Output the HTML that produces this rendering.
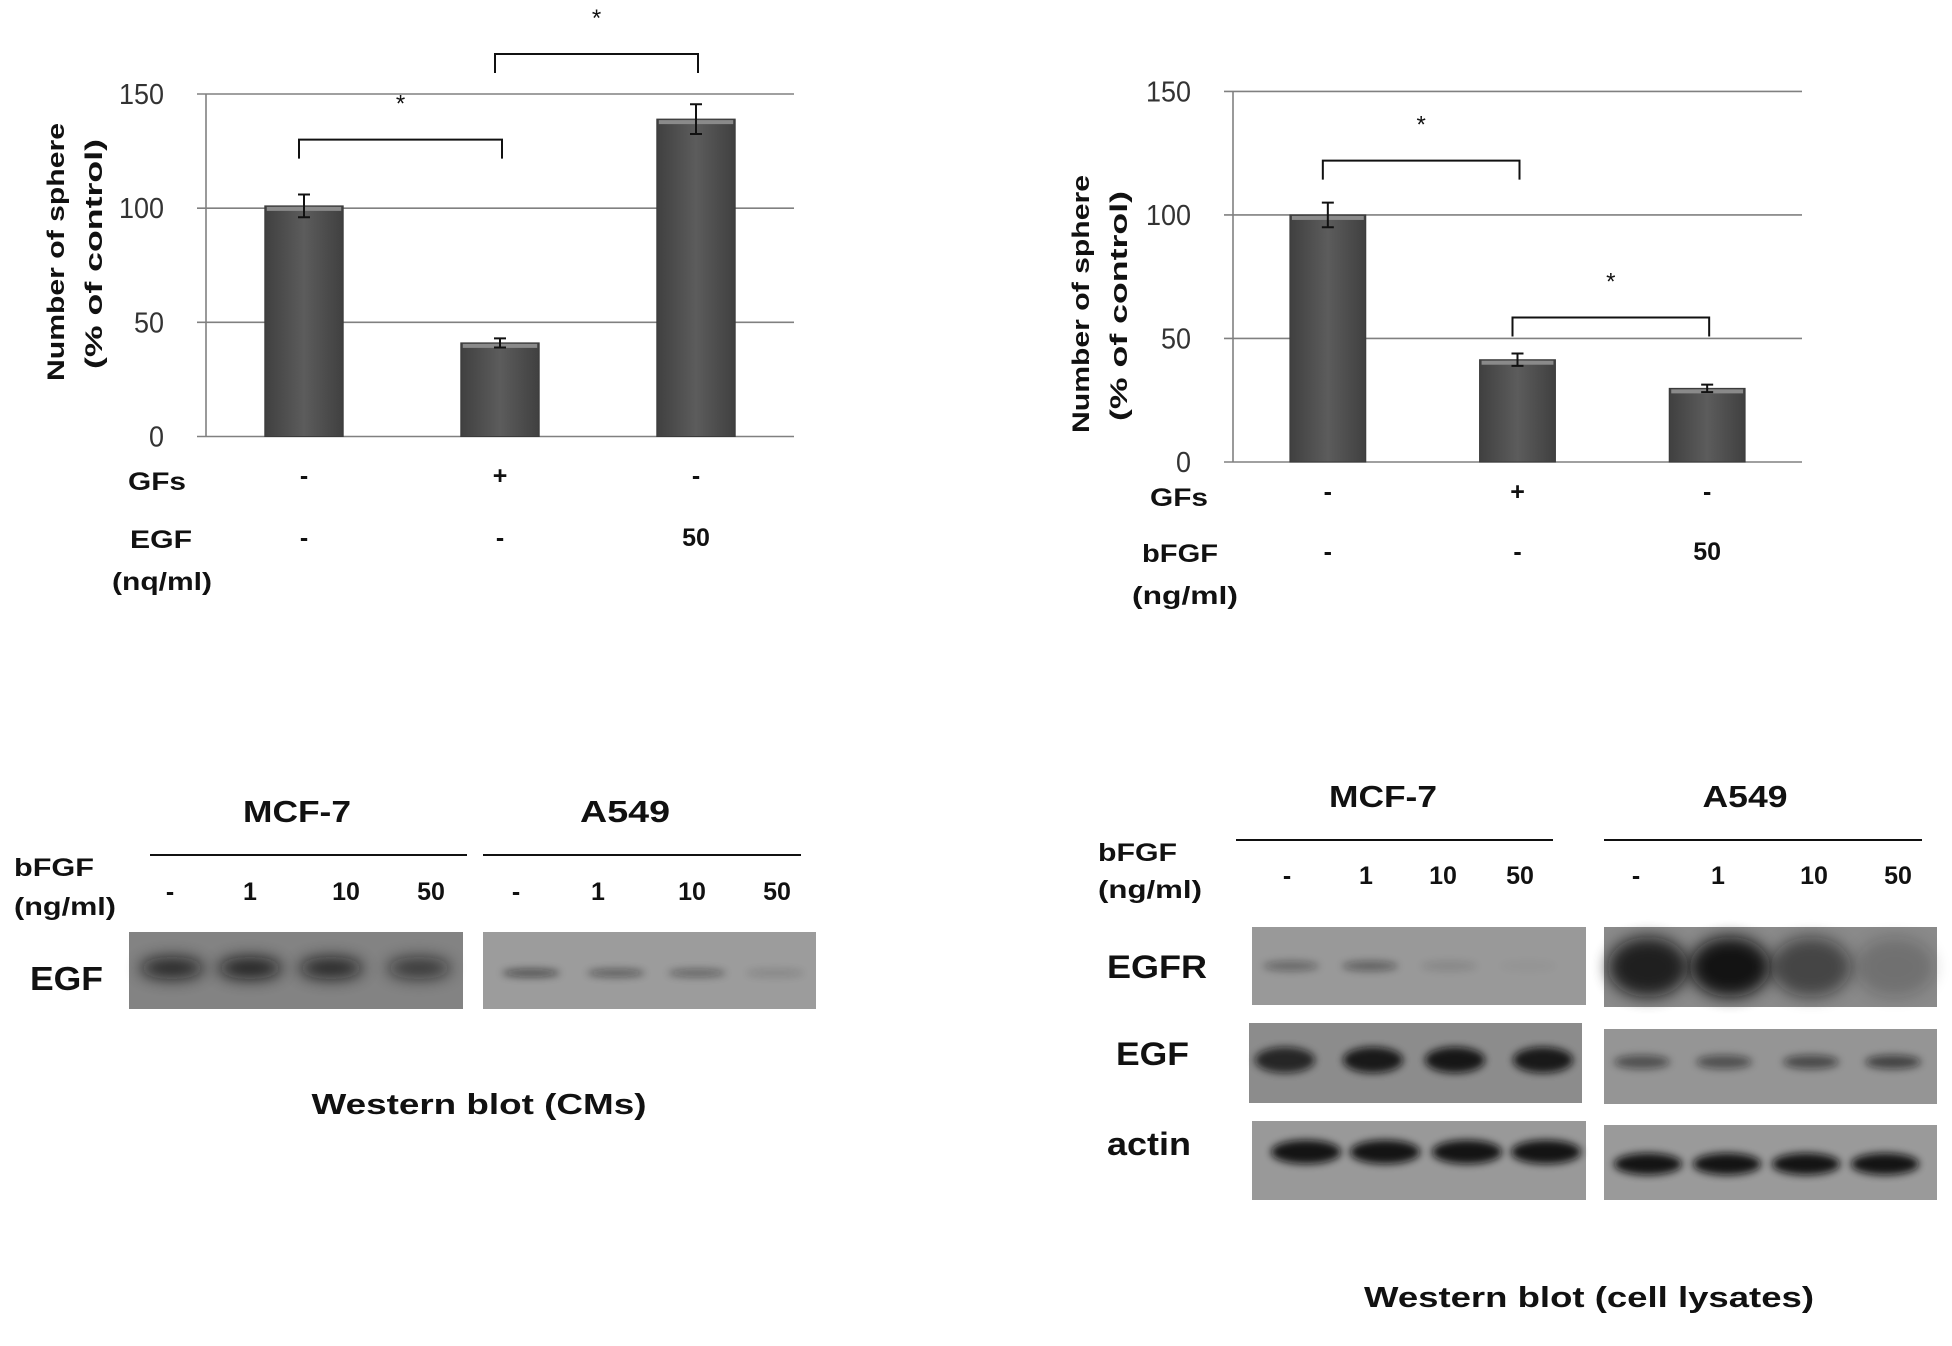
<!DOCTYPE html>
<html><head><meta charset="utf-8"><title>Sphere formation and Western blots</title>
<style>
html,body{margin:0;padding:0;background:#fff;}
svg{display:block;font-family:"Liberation Sans",Arial,sans-serif;}
.tk{font-size:29px;fill:#333;}
.bl{font-weight:bold;fill:#111;}
</style></head>
<body>
<svg id="fig" width="1952" height="1346" viewBox="0 0 1952 1346">
<defs>
<linearGradient id="barg" x1="0" x2="1" y1="0" y2="0">
<stop offset="0" stop-color="#404040"/><stop offset="0.5" stop-color="#5c5c5c"/><stop offset="1" stop-color="#404040"/>
</linearGradient>
<filter id="blur3" x="-50%" y="-100%" width="200%" height="300%"><feGaussianBlur stdDeviation="4"/></filter>
<filter id="blur6" x="-50%" y="-100%" width="200%" height="300%"><feGaussianBlur stdDeviation="8"/></filter>
</defs>
<g id="c1"></g>
<g id="c2"></g>

<g>
<text class="bl" x="297" y="822" font-size="31" text-anchor="middle" textLength="108" lengthAdjust="spacingAndGlyphs">MCF-7</text>
<text class="bl" x="625" y="822" font-size="31" text-anchor="middle" textLength="90" lengthAdjust="spacingAndGlyphs">A549</text>
<line x1="150" y1="855" x2="467" y2="855" stroke="#111" stroke-width="2"/>
<line x1="483" y1="855" x2="801" y2="855" stroke="#111" stroke-width="2"/>
<text class="bl" x="14" y="876" font-size="25" textLength="80" lengthAdjust="spacingAndGlyphs">bFGF</text>
<text class="bl" x="14" y="915" font-size="25" textLength="102" lengthAdjust="spacingAndGlyphs">(ng/ml)</text>
<g class="bl" font-size="25" text-anchor="middle">
<text x="170" y="900">-</text><text x="250" y="900">1</text><text x="346" y="900">10</text><text x="431" y="900">50</text>
<text x="516" y="900">-</text><text x="598" y="900">1</text><text x="692" y="900">10</text><text x="777" y="900">50</text>
</g>
<text class="bl" x="30" y="990" font-size="33" textLength="73" lengthAdjust="spacingAndGlyphs">EGF</text>
<rect x="129" y="932" width="334" height="77" fill="#838383"/>
<rect x="483" y="932" width="333" height="77" fill="#9c9c9c"/>
<g id="cmsBands"></g>
<text class="bl" x="479" y="1114" font-size="29" text-anchor="middle" textLength="335" lengthAdjust="spacingAndGlyphs">Western blot (CMs)</text>
</g>

<g>
<text class="bl" x="1383" y="807" font-size="31" text-anchor="middle" textLength="108" lengthAdjust="spacingAndGlyphs">MCF-7</text>
<text class="bl" x="1745" y="807" font-size="31" text-anchor="middle" textLength="85" lengthAdjust="spacingAndGlyphs">A549</text>
<line x1="1236" y1="840" x2="1553" y2="840" stroke="#111" stroke-width="2"/>
<line x1="1604" y1="840" x2="1922" y2="840" stroke="#111" stroke-width="2"/>
<text class="bl" x="1098" y="861" font-size="25" textLength="79" lengthAdjust="spacingAndGlyphs">bFGF</text>
<text class="bl" x="1098" y="898" font-size="25" textLength="104" lengthAdjust="spacingAndGlyphs">(ng/ml)</text>
<g class="bl" font-size="25" text-anchor="middle">
<text x="1287" y="884">-</text><text x="1366" y="884">1</text><text x="1443" y="884">10</text><text x="1520" y="884">50</text>
<text x="1636" y="884">-</text><text x="1718" y="884">1</text><text x="1814" y="884">10</text><text x="1898" y="884">50</text>
</g>
<text class="bl" x="1107" y="978" font-size="32" textLength="100" lengthAdjust="spacingAndGlyphs">EGFR</text>
<text class="bl" x="1116" y="1065" font-size="32" textLength="73" lengthAdjust="spacingAndGlyphs">EGF</text>
<text class="bl" x="1107" y="1155" font-size="32" textLength="84" lengthAdjust="spacingAndGlyphs">actin</text>
<rect x="1252" y="927" width="334" height="78" fill="#999"/>
<rect x="1604" y="927" width="333" height="80" fill="#8a8a8a"/>
<rect x="1249" y="1023" width="333" height="80" fill="#8c8c8c"/>
<rect x="1604" y="1029" width="333" height="75" fill="#959595"/>
<rect x="1252" y="1121" width="334" height="79" fill="#999"/>
<rect x="1604" y="1125" width="333" height="75" fill="#9a9a9a"/>
<g id="lysBands"></g>
<text class="bl" x="1589" y="1307" font-size="29" text-anchor="middle" textLength="450" lengthAdjust="spacingAndGlyphs">Western blot (cell lysates)</text>
</g>
</svg>
<script>
const categories = ["control", "GFs", "factor 50"];
const gfsRow = ["-", "+", "-"];
const doseRow = ["-", "-", "50"];
const egfValues = [101, 41, 139];
const egfErrors = [5, 2, 6.5];
const bfgfValues = [100, 41.4, 29.8];
const bfgfErrors = [5, 2.5, 1.5];
const yTicks = [0, 50, 100, 150];
const egfBrackets = [[0, 1, 130], [1, 2, 167.5]];
const bfgfBrackets = [[0, 1, 122], [1, 2, 58.5]];
const cmsMcf7 = [0.8, 0.85, 0.8, 0.65];
const cmsA549 = [0.55, 0.45, 0.4, 0.15];
const egfrMcf7 = [0.35, 0.4, 0.12, 0.03];
const egfrA549 = [0.85, 0.95, 0.55, 0.2];
const egfMcf7 = [0.8, 0.9, 0.92, 0.9];
const egfA549 = [0.5, 0.5, 0.55, 0.6];
const actinMcf7 = [0.95, 0.95, 0.95, 0.95];
const actinA549 = [0.95, 0.95, 0.95, 0.95];

const NS = "http://www.w3.org/2000/svg";
function mk(tag, attrs, parent) {
  const e = document.createElementNS(NS, tag);
  for (const k in attrs) e.setAttribute(k, attrs[k]);
  parent.appendChild(e);
  return e;
}

function drawChart(g, cfg, values, errors, brackets, doseLabel, doseLabelCfg) {
  const y = v => cfg.y0 - v / 150 * (cfg.y0 - cfg.y150);
  const bw = (cfg.x1 - cfg.x0) / categories.length;
  const cx = i => cfg.x0 + bw * (i + 0.5);
  yTicks.forEach(t => {
    const ln = mk("line", {x1: cfg.x0 - 9, x2: cfg.x1, y1: y(t), y2: y(t), stroke: "#808080", "stroke-width": 1.6}, g);
    
    
    const s = String(t);
    const tx = mk("text", {x: cfg.x0 - 42, y: y(t) + 10, "text-anchor": "end", class: "tk", textLength: s.length * 15, lengthAdjust: "spacingAndGlyphs"}, g);
    tx.textContent = s;
    
    
  });
  const ax = mk("line", {x1: cfg.x0, x2: cfg.x0, y1: y(150), y2: y(0), stroke: "#808080", "stroke-width": 1.6}, g);
  
  
  values.forEach((v, i) => {
    const w = bw * 0.4;
    const r = mk("rect", {x: cx(i) - w / 2, y: y(v), width: w, height: y(0) - y(v), fill: "url(#barg)", stroke: "#3a3a3a", "stroke-width": 1}, g);
    
    
    const hl = mk("rect", {x: cx(i) - w / 2 + 2, y: y(v) + 1, width: w - 4, height: 4, fill: "#8a8a8a"}, g);
    
    
    const e = errors[i];
    const p = mk("path", {d: `M${cx(i)-6},${y(v+e)}H${cx(i)+6}M${cx(i)},${y(v+e)}V${y(v-e)}M${cx(i)-6},${y(v-e)}H${cx(i)+6}`, stroke: "#111", "stroke-width": 2, fill: "none"}, g);
    
    
    const t1 = mk("text", {x: cx(i), y: cfg.gfY, "text-anchor": "middle", class: "bl", "font-size": 25}, g);
    t1.textContent = gfsRow[i];
    
    
    const t2 = mk("text", {x: cx(i), y: cfg.doseY, "text-anchor": "middle", class: "bl", "font-size": 25}, g);
    t2.textContent = doseRow[i];
    
    
  });
  brackets.forEach((b, k) => {
    const xa = cx(b[0]) - 5, xb = cx(b[1]) + 2, yt = y(b[2]);
    const p = mk("path", {d: `M${xa},${yt+19}V${yt}H${xb}V${yt+19}`, stroke: "#111", "stroke-width": 2, fill: "none"}, g);
    
    
    const s = mk("text", {x: (xa + xb) / 2, y: yt - 28, "text-anchor": "middle", "font-size": 24, fill: "#111"}, g);
    s.textContent = "*";
    
    
  });
  const tt1 = mk("text", {transform: `translate(${cfg.titleX},${cfg.titleCY}) rotate(-90)`, "text-anchor": "middle", class: "bl", "font-size": 24, textLength: cfg.titleLen, lengthAdjust: "spacingAndGlyphs"}, g);
  tt1.textContent = "Number of sphere";
  
  
  const tt2 = mk("text", {transform: `translate(${cfg.titleX + 38},${cfg.titleCY + 2}) rotate(-90)`, "text-anchor": "middle", class: "bl", "font-size": 24, textLength: cfg.titleLen2, lengthAdjust: "spacingAndGlyphs"}, g);
  tt2.textContent = "(% of control)";
  
  
  const gl = mk("text", {x: cfg.gfLX, y: cfg.gfY + 6, class: "bl", "font-size": 25, textLength: 58, lengthAdjust: "spacingAndGlyphs"}, g);
  gl.textContent = "GFs";
  
  
  const dl = mk("text", {x: doseLabelCfg.x, y: cfg.doseY + 2, class: "bl", "font-size": 25, textLength: doseLabelCfg.w, lengthAdjust: "spacingAndGlyphs"}, g);
  dl.textContent = doseLabel;
  
  
  const ul = mk("text", {x: doseLabelCfg.ux, y: cfg.doseY + 44, class: "bl", "font-size": 25, textLength: doseLabelCfg.uw, lengthAdjust: "spacingAndGlyphs"}, g);
  ul.textContent = doseLabelCfg.unit;
  
  
}

drawChart(document.getElementById("c1"),
  {x0: 206, x1: 794, y0: 436.5, y150: 94, gfY: 484, doseY: 546, titleX: 64, titleCY: 252, titleLen: 258, titleLen2: 230, gfLX: 128},
  egfValues, egfErrors, egfBrackets, "EGF", {x: 130, w: 62, ux: 112, uw: 100, unit: "(nq/ml)"});
drawChart(document.getElementById("c2"),
  {x0: 1233, x1: 1802, y0: 462, y150: 91.4, gfY: 500, doseY: 560, titleX: 1089, titleCY: 304, titleLen: 258, titleLen2: 230, gfLX: 1150},
  bfgfValues, bfgfErrors, bfgfBrackets, "bFGF", {x: 1142, w: 76, ux: 1132, uw: 106, unit: "(ng/ml)"});

function bands(parent, lanes, vals, cy, w, h, blurId, name) {
  vals.forEach((v, i) => {
    const a = Math.max(0, Math.min(1, v));
    const e = mk("ellipse", {cx: lanes[i], cy: cy, rx: w / 2, ry: h / 2, fill: "#111", opacity: a, filter: "url(#" + blurId + ")"}, parent);
    
    
  });
}
const cms = document.getElementById("cmsBands");
bands(cms, [172, 250, 331, 419], cmsMcf7, 968, 64, 22, "blur6", "cms-mcf7");
bands(cms, [531, 616, 697, 775], cmsA549, 973, 58, 8, "blur3", "cms-a549");
const lys = document.getElementById("lysBands");
bands(lys, [1291, 1370, 1449, 1528], egfrMcf7, 966, 56, 10, "blur3", "egfr-mcf7");
bands(lys, [1648, 1730, 1811, 1895], egfrA549, 967, 80, 60, "blur6", "egfr-a549");
bands(lys, [1285, 1373, 1455, 1543], egfMcf7, 1060, 60, 26, "blur3", "egf-mcf7");
bands(lys, [1642, 1724, 1811, 1893], egfA549, 1062, 56, 14, "blur3", "egf-a549");
bands(lys, [1306, 1385, 1467, 1546], actinMcf7, 1152, 70, 24, "blur3", "actin-mcf7");
bands(lys, [1648, 1727, 1806, 1885], actinA549, 1164, 68, 22, "blur3", "actin-a549");
</script>
</body></html>
